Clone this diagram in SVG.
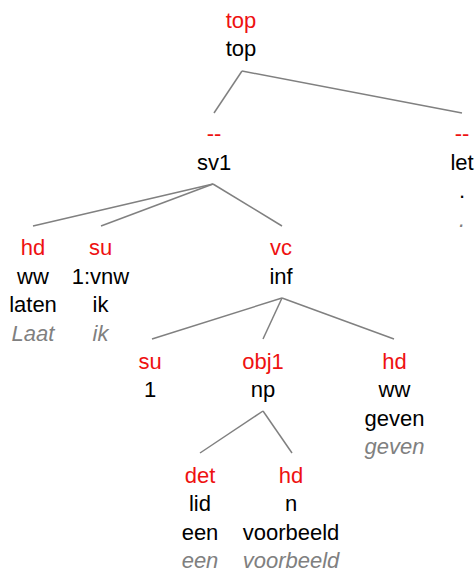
<svg xmlns="http://www.w3.org/2000/svg" width="475" height="570" viewBox="0 0 475 570">
<style>
text{font-family:"Liberation Sans",Arial,sans-serif;font-size:22px;text-anchor:middle;fill:#000}
.r{fill:#ee1111}
.g{fill:#808080;font-style:italic}
.c line{stroke:#808080;stroke-width:1.5;fill:none}
</style>
<rect width="475" height="570" fill="#fff"/>
<g class="c" id="connectors">
<line x1="242" y1="71" x2="214" y2="113"/>
<line x1="242" y1="71" x2="462" y2="113"/>
<line x1="213" y1="184" x2="33" y2="226"/>
<line x1="213" y1="184" x2="101" y2="226"/>
<line x1="213" y1="184" x2="282" y2="226"/>
<line x1="282" y1="298" x2="152" y2="339"/>
<line x1="282" y1="298" x2="263" y2="339"/>
<line x1="282" y1="298" x2="394" y2="339"/>
<line x1="263" y1="411" x2="200" y2="453"/>
<line x1="263" y1="411" x2="292" y2="453"/>
</g>
<g id="n-top"><text class="r" x="241" y="27.5">top</text><text x="241" y="56">top</text></g>
<g id="n-sv1"><text class="r" x="214" y="141.3">--</text><text x="214" y="169.8">sv1</text></g>
<g id="n-let"><text class="r" x="462" y="141.3">--</text><text x="462" y="169.8">let</text><text x="462" y="198.2">.</text><text class="g" x="462" y="226.7">.</text></g>
<g id="n-laten"><text class="r" x="33" y="255.1">hd</text><text x="33" y="283.6">ww</text><text x="33" y="312">laten</text><text class="g" x="33" y="340.5">Laat</text></g>
<g id="n-ik"><text class="r" x="100.5" y="255.1">su</text><text x="100.5" y="283.6">1:vnw</text><text x="100.5" y="312">ik</text><text class="g" x="100.5" y="340.5">ik</text></g>
<g id="n-inf"><text class="r" x="281" y="255.1">vc</text><text x="281" y="283.6">inf</text></g>
<g id="n-su1"><text class="r" x="150" y="368.9">su</text><text x="150" y="397.4">1</text></g>
<g id="n-np"><text class="r" x="263" y="368.9">obj1</text><text x="263" y="397.4">np</text></g>
<g id="n-geven"><text class="r" x="394.5" y="368.9">hd</text><text x="394.5" y="397.4">ww</text><text x="394.5" y="425.8">geven</text><text class="g" x="394.5" y="454.3">geven</text></g>
<g id="n-een"><text class="r" x="200" y="482.7">det</text><text x="200" y="511.2">lid</text><text x="200" y="539.6">een</text><text class="g" x="200" y="568.1">een</text></g>
<g id="n-voorbeeld"><text class="r" x="291" y="482.7">hd</text><text x="291" y="511.2">n</text><text x="291" y="539.6">voorbeeld</text><text class="g" x="291" y="568.1">voorbeeld</text></g>
</svg>
